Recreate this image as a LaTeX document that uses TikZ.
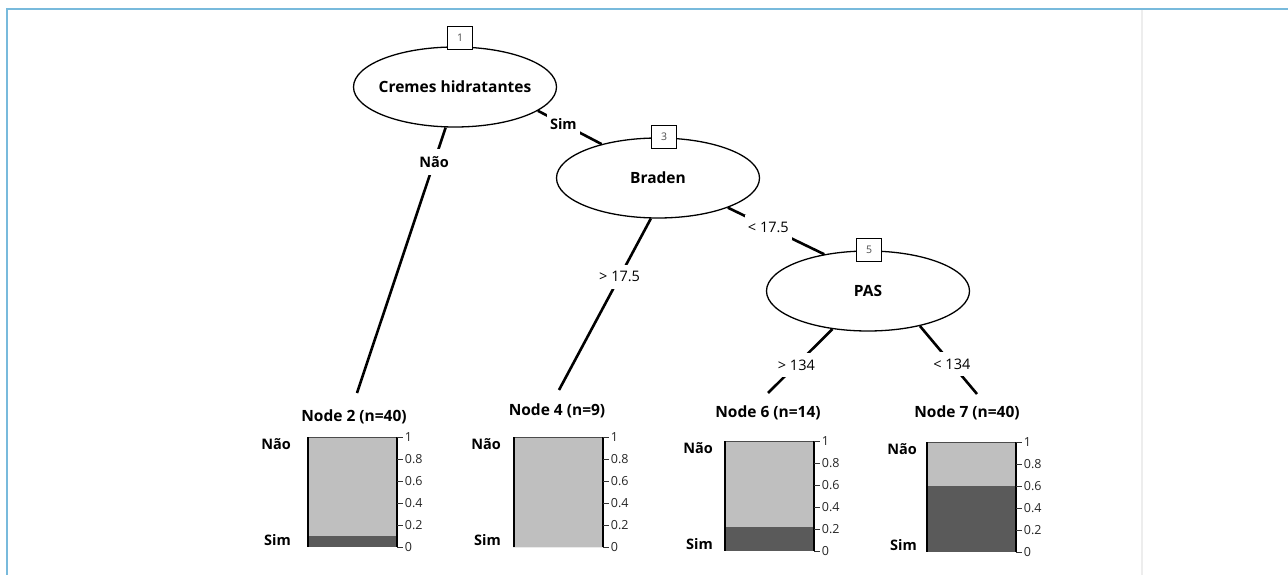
\documentclass[tikz,border=0pt]{standalone}
\usepackage{fontspec}
\setmainfont{Open Sans}
\usetikzlibrary{shapes.geometric}
\definecolor{frameblue}{RGB}{120,186,220}
\definecolor{barlight}{RGB}{191,191,191}
\definecolor{bardark}{RGB}{90,90,90}
\begin{document}
\begin{tikzpicture}[x=1pt, y=-1pt,
    split/.style={draw, ellipse, line width=1.3pt, minimum width=203pt, minimum height=80pt, inner sep=0pt},
    splittext/.style={font=\fontsize{15.5}{17}\selectfont\bfseries},
    idbox/.style={draw, fill=white, line width=1.3pt, minimum width=25pt, minimum height=23pt, inner sep=0pt, text=black!70, font=\fontsize{10.5}{11}\selectfont},
    branch/.style={line width=2.6pt},
    cond/.style={fill=white, inner xsep=3pt, inner ysep=7pt, font=\fontsize{14.5}{16}\selectfont},
    leaftitle/.style={font=\fontsize{15.5}{17}\selectfont\bfseries},
    classlbl/.style={anchor=east, inner sep=0pt, font=\fontsize{14.5}{16}\selectfont\bfseries},
    ticklbl/.style={anchor=west, inner sep=1.5pt, text=black!85, font=\fontsize{12.5}{13}\selectfont}]
    \useasboundingbox (0,0) rectangle (1288,575);

    % Frame
    \draw[frameblue, line width=2pt] (7,575) -- (7,9) -- (1288,9);
    \draw[black!7, line width=1.5pt] (1142,10) -- (1142,575);

    % Define nodes
    \node[split, label={[splittext]center:Cremes hidratantes}] (crm) at (455,87) {};
    \node[split, label={[splittext]center:Braden}] (brd) at (658,178) {};
    \node[split, label={[splittext]center:PAS}] (pas) at (868,291) {};
    \node[idbox] (id1) at (460,38) {1};
    \node[idbox] (id3) at (664,137) {3};
    \node[idbox] (id5) at (869,250) {5};

    \coordinate (e2) at (357,393);
    \coordinate (e4) at (559,390);
    \coordinate (e6) at (768,393);
    \coordinate (e7) at (977,394);

    % Draw edges
    \draw[branch] (crm.257) -- (e2) node[cond, pos=0.13] {\bfseries Não};
    \draw[branch] (crm.344) -- (brd.149) node[cond, pos=0.4] {\bfseries Sim};
    \draw[branch] (brd.260) -- (e4) node[cond, pos=0.34] {> 17.5};
    \draw[branch] (brd.337) -- (pas.140) node[cond, pos=0.42] {< 17.5};
    \draw[branch] (pas.227) -- (e6) node[cond, pos=0.56] {> 134};
    \draw[branch] (pas.326) -- (e7) node[cond, pos=0.56] {< 134};

    % Leaf bars
    \foreach \nm/\xl/\yt/\dk/\lx/\tx/\ty/\cnt in {2/307/437/0.1/291/354/417/40, 4/513/437/0/501/557/411/9, 6/724/441/0.214/713/768/413/14, 7/926/442/0.6/917/967/413/40} {
        \node[leaftitle] (t\nm) at (\tx,\ty) {Node \nm\ (n=\cnt)};
        \fill[barlight] (\xl,\yt) rectangle ++(90,110);
        \fill[bardark] (\xl,\yt+110) rectangle ++(90,-110*\dk);
        \draw[black!70, line width=1pt] (\xl,\yt) -- ++(90,0);
        \draw[line width=2.6pt] (\xl+1,\yt) -- ++(0,110);
        \draw[line width=1.8pt] (\xl+90,\yt) -- ++(0,110);
        \foreach \t [count=\i] in {0,0.2,0.4,0.6,0.8,1}
            \draw[black!80, line width=0.8pt] (\xl+90,\yt+110-110*\t) -- ++(6,0) node[ticklbl] (tk\nm\i) {\t};
        \node[classlbl] (no\nm) at (\lx,\yt+7) {Não};
        \node[classlbl] (si\nm) at (\lx,\yt+103) {Sim};
    }
\end{tikzpicture}
\end{document}
